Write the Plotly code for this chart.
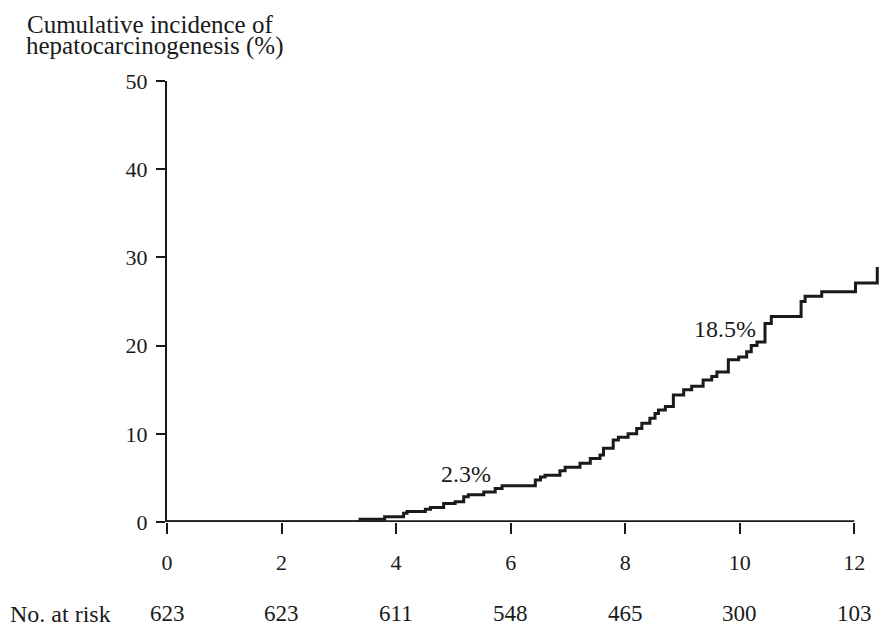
import plotly.graph_objects as go

# Step data (years, cumulative incidence %)
times = [0, 3.37, 3.80, 4.13, 4.19, 4.51, 4.60, 4.83, 5.03, 5.18, 5.26, 5.53, 5.73, 5.85,
         6.43, 6.52, 6.60, 6.86, 6.95, 7.21, 7.39, 7.56, 7.62, 7.79, 7.88, 8.05, 8.20,
         8.29, 8.43, 8.52, 8.58, 8.70, 8.84, 9.02, 9.16, 9.36, 9.51, 9.60, 9.80, 9.98,
         10.12, 10.20, 10.30, 10.44, 10.55, 11.07, 11.14, 11.43, 12.02, 12.40]
incidence = [0, 0.3, 0.6, 1.0, 1.2, 1.45, 1.65, 2.1, 2.3, 2.85, 3.1, 3.4, 3.8, 4.1,
             4.75, 5.1, 5.3, 5.8, 6.2, 6.65, 7.2, 7.6, 8.35, 9.3, 9.6, 10.0, 10.6,
             11.2, 11.75, 12.3, 12.7, 13.1, 14.4, 15.0, 15.4, 16.1, 16.5, 17.0, 18.4, 18.7,
             19.3, 20.0, 20.4, 22.5, 23.3, 25.0, 25.6, 26.1, 27.1, 28.9]

x_ticks = [0, 2, 4, 6, 8, 10, 12]
y_ticks = [0, 10, 20, 30, 40, 50]
at_risk = [623, 623, 611, 548, 465, 300, 103]

label_texts = ["2.3%", "18.5%"]
label_x = [5.22, 9.75]
label_y = [5.44, 21.9]

title_lines = ["Cumulative incidence of", "hepatocarcinogenesis (%)"]

FONT = "Liberation Serif"
INK = "#1a1a1a"

fig = go.Figure()
fig.add_trace(go.Scatter(x=times, y=incidence, mode="lines",
                         line=dict(shape="hv", color=INK, width=3),
                         hoverinfo="skip", showlegend=False))

# x-axis line from 0 to 12 only
fig.add_shape(type="line", xref="x", yref="y", x0=x_ticks[0], x1=x_ticks[-1], y0=0, y1=0,
              line=dict(color=INK, width=3.5))

for t, xx, yy in zip(label_texts, label_x, label_y):
    fig.add_annotation(x=xx, y=yy, text=t, showarrow=False,
                       font=dict(family=FONT, size=24, color=INK))

for xx, n in zip(x_ticks, at_risk):
    fig.add_annotation(x=xx, y=-0.2075, xref="x", yref="paper", text=str(n), showarrow=False,
                       font=dict(family=FONT, size=23, color=INK), yanchor="middle")
fig.add_annotation(x=-0.222, y=-0.2075, xref="paper", yref="paper", text="No. at risk",
                   showarrow=False, xanchor="left", yanchor="middle",
                   font=dict(family=FONT, size=24, color=INK))

fig.add_annotation(x=-0.0244, y=1.129, xref="paper", yref="paper", text=title_lines[0],
                   showarrow=False, xanchor="center", yanchor="middle",
                   font=dict(family=FONT, size=25, color=INK))
fig.add_annotation(x=-0.0168, y=1.0794, xref="paper", yref="paper", text=title_lines[1],
                   showarrow=False, xanchor="center", yanchor="middle",
                   font=dict(family=FONT, size=25, color=INK))

fig.update_layout(
    width=886, height=626,
    margin=dict(l=167, r=3, t=81, b=104),
    paper_bgcolor="white", plot_bgcolor="white",
    font=dict(family=FONT, size=22, color=INK),
    xaxis=dict(range=[0, 12.5], tickvals=x_ticks, ticks="outside", ticklen=11,
               tickwidth=2, tickcolor=INK, showline=False, showgrid=False,
               zeroline=False, ticklabelstandoff=10,
               tickfont=dict(family=FONT, size=22, color=INK)),
    yaxis=dict(range=[0, 50], tickvals=y_ticks, ticks="outside", ticklen=9,
               tickwidth=2, tickcolor=INK, showline=True, linecolor=INK, linewidth=2,
               showgrid=False, zeroline=False, ticklabelstandoff=4,
               tickfont=dict(family=FONT, size=22, color=INK)),
)

fig.write_html("out.html")
